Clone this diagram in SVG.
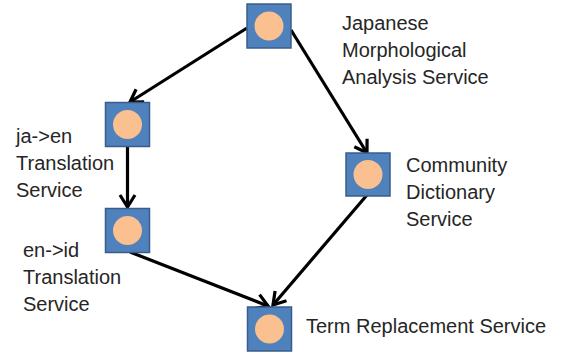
<svg xmlns="http://www.w3.org/2000/svg" width="564" height="356" viewBox="0 0 564 356">
<style>
.box{fill:#4F81BD;stroke:#385D8A;stroke-width:1.5}
.dot{fill:#FAC090}
.lbl{font-family:"Liberation Sans",Arial,sans-serif;font-size:20px;fill:#262626}
.conn{stroke:#000;stroke-width:3.2;fill:none}
</style>
<defs>
<marker id="arr" markerUnits="userSpaceOnUse" markerWidth="22" markerHeight="22" refX="14" refY="9" orient="auto">
<path d="M2,1.5 L14,9 L2,16.5" fill="none" stroke="#000" stroke-width="3.2" stroke-linejoin="miter"/>
</marker>
</defs>
<rect width="564" height="356" fill="#fff"/>
<g id="connectors">
<line class="conn" x1="247" y1="28" x2="130" y2="102" marker-end="url(#arr)"/>
<line class="conn" x1="291" y1="30" x2="367" y2="153" marker-end="url(#arr)"/>
<line class="conn" x1="127.5" y1="147" x2="127.5" y2="207" marker-end="url(#arr)"/>
<line class="conn" x1="130" y1="252" x2="268" y2="306" marker-end="url(#arr)"/>
<line class="conn" x1="367" y1="195" x2="273" y2="305" marker-end="url(#arr)"/>
</g>
<g id="node-morph">
<rect class="box" x="247" y="4" width="44" height="44"/>
<circle class="dot" cx="269" cy="26" r="14.5"/>
<text class="lbl" x="342" y="30">Japanese</text>
<text class="lbl" x="342" y="57">Morphological</text>
<text class="lbl" x="342" y="84">Analysis Service</text>
</g>
<g id="node-jaen">
<rect class="box" x="105.5" y="102.5" width="44" height="44"/>
<circle class="dot" cx="127.5" cy="124.5" r="14.5"/>
<text class="lbl" x="16" y="143">ja-&gt;en</text>
<text class="lbl" x="16" y="170">Translation</text>
<text class="lbl" x="16" y="197">Service</text>
</g>
<g id="node-enid">
<rect class="box" x="105.5" y="208.5" width="44" height="44"/>
<circle class="dot" cx="127.5" cy="230.5" r="14.5"/>
<text class="lbl" x="23" y="257">en-&gt;id</text>
<text class="lbl" x="23" y="284">Translation</text>
<text class="lbl" x="23" y="311">Service</text>
</g>
<g id="node-dict">
<rect class="box" x="346" y="153" width="44" height="43"/>
<circle class="dot" cx="368" cy="174.5" r="14.5"/>
<text class="lbl" x="406" y="172">Community</text>
<text class="lbl" x="406" y="199">Dictionary</text>
<text class="lbl" x="406" y="226">Service</text>
</g>
<g id="node-term">
<rect class="box" x="247.5" y="307" width="44" height="44"/>
<circle class="dot" cx="269.5" cy="329" r="14.5"/>
<text class="lbl" x="306" y="333">Term Replacement Service</text>
</g>
</svg>
